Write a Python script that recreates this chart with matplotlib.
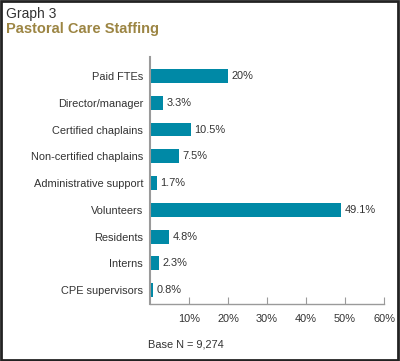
import matplotlib
matplotlib.use("Agg")
import matplotlib.pyplot as plt
from matplotlib.patches import Rectangle

# data
categories = ["Paid FTEs", "Director/manager", "Certified chaplains",
              "Non-certified chaplains", "Administrative support",
              "Volunteers", "Residents", "Interns", "CPE supervisors"]
values = [20, 3.3, 10.5, 7.5, 1.7, 49.1, 4.8, 2.3, 0.8]
value_labels = ["20%", "3.3%", "10.5%", "7.5%", "1.7%", "49.1%", "4.8%", "2.3%", "0.8%"]
xticks = [10, 20, 30, 40, 50, 60]
xtick_labels = ["10%", "20%", "30%", "40%", "50%", "60%"]

fam = ["Liberation Sans Narrow", "Liberation Sans", "DejaVu Sans"]
bar_col = "#0089a6"
gold = "#9c8543"
txt = "#333333"
grey = "#9a9a9a"
fs = 7.9

fig = plt.figure(figsize=(4, 3.61), dpi=100)
fig.patches.append(Rectangle((0.003, 0.003), 0.992, 0.994, transform=fig.transFigure,
                             fill=False, edgecolor="#222222", linewidth=2))

fig.text(0.015, 0.962, "Graph 3", family=fam, fontsize=10, color=txt, va="center")
fig.text(0.015, 0.92, "Pastoral Care Staffing", family=fam, fontsize=10.5,
         fontweight="bold", color=gold, va="center")

ax = fig.add_axes([0.375, 0.158, 0.585, 0.684])
y = list(range(len(categories)))
ax.barh(y, values, height=0.52, color=bar_col)
for yi, v, lab in zip(y, values, value_labels):
    ax.text(v + 0.9, yi, lab, family=fam, fontsize=fs, color=txt, va="center", ha="left")

ax.set_xlim(0, 60)
ax.set_ylim(8.52, -0.71)
ax.set_yticks(y)
ax.set_yticklabels(categories, family=fam, fontsize=fs, color=txt)
ax.tick_params(axis="y", length=0, pad=5)
ax.set_xticks(xticks)
ax.set_xticklabels(xtick_labels, family=fam, fontsize=fs, color=txt)
ax.tick_params(axis="x", direction="in", length=5, color=grey, pad=7)

for s in ["top", "right"]:
    ax.spines[s].set_visible(False)
ax.spines["left"].set_color(grey)
ax.spines["left"].set_linewidth(1.5)
ax.spines["bottom"].set_color(grey)
ax.spines["bottom"].set_linewidth(1.0)

fig.text(0.37, 0.045, "Base N = 9,274", family=fam, fontsize=fs, color=txt, va="center")

fig.savefig("out.png", dpi=100)
